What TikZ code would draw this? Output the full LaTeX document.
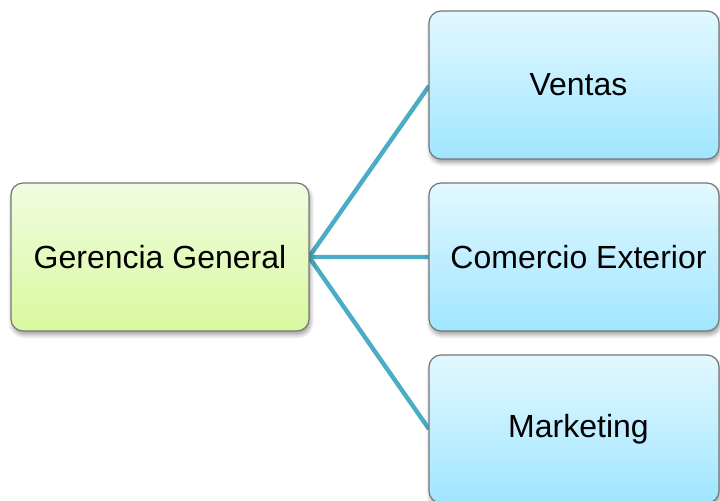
\documentclass[tikz,border=0pt]{standalone}
\usepackage{fontspec}
\setmainfont{Liberation Sans}
\usepackage{tikz}
\usetikzlibrary{shadows,shadows.blur}

\definecolor{verdeclaro}{RGB}{241,252,224}
\definecolor{verdeosc}{RGB}{216,249,158}
\definecolor{celesteclaro}{RGB}{226,248,255}
\definecolor{celesteosc}{RGB}{160,230,255}
\definecolor{borde}{RGB}{118,118,118}
\definecolor{enlace}{RGB}{75,172,198}

\tikzset{
  caja/.style={draw=borde,line width=0.6pt,rounded corners=6pt,
    inner sep=0pt,font=\fontsize{16}{19}\selectfont,
    blur shadow={shadow xshift=0.6pt,shadow yshift=-1.8pt,
      shadow blur steps=6,shadow blur extra rounding=1pt,shadow opacity=40}},
  jefe/.style={caja,top color=verdeclaro,bottom color=verdeosc,
    minimum width=149pt,minimum height=74pt},
  area/.style={caja,top color=celesteclaro,bottom color=celesteosc,
    minimum width=145pt,minimum height=74pt,
    execute at begin node=\hspace*{4.5pt}},
  rama/.style={draw=enlace,line width=2.2pt}
}

\begin{document}
\begin{tikzpicture}[x=0.5pt,y=-0.5pt]
  \useasboundingbox (0,0) rectangle (720,500);
  \clip (0,0) rectangle (720,500);
  % ramas hacia cada area
  \coordinate (o) at (309,257);
  \coordinate (a1) at (429,86);
  \coordinate (a2) at (429,257);
  \coordinate (a3) at (429,429);
  \draw[rama] (a1) -- (o) -- (a2);
  \draw[rama] (o) -- (a3);
  % cajas
  \node[jefe] (gg) at (160,257) {Gerencia General};
  \node[area] (ventas) at (574,85) {Ventas};
  \node[area] (comex) at (574,257) {Comercio Exterior};
  \node[area] (mkt) at (574,429) {Marketing};
\end{tikzpicture}
\end{document}
